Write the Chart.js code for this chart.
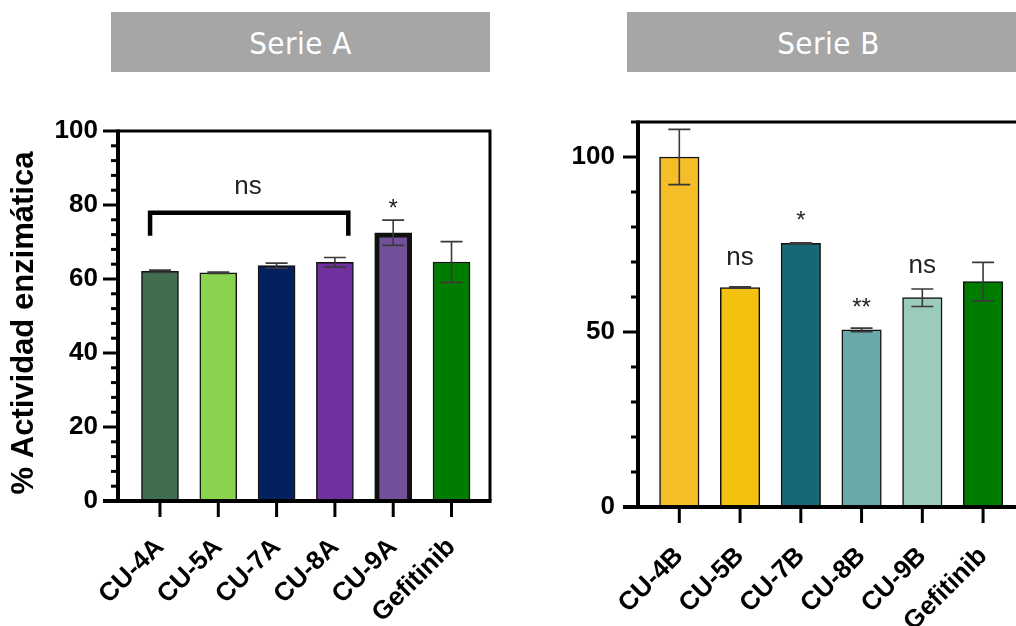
<!DOCTYPE html>
<html><head><meta charset="utf-8">
<script src="https://cdn.jsdelivr.net/npm/chart.js@4.4.0/dist/chart.umd.min.js"></script>
<style>
html,body{margin:0;padding:0;background:#fff;width:1016px;height:626px;overflow:hidden;position:relative;}
.hdr{position:absolute;top:12px;height:60px;background:#a6a6a6;color:#fff;font-family:"Liberation Sans Narrow","DejaVu Sans Condensed",sans-serif;font-size:31px;letter-spacing:0.5px;line-height:62px;text-align:center;}
#ha{left:111px;width:379px;}
#hb{left:627px;width:403px;}
#ca{position:absolute;left:0;top:0;}
#cb{position:absolute;left:530px;top:0;}
</style></head>
<body>
<div class="hdr" id="ha">Serie A</div>
<div class="hdr" id="hb">Serie B</div>
<canvas id="ca" width="510" height="626"></canvas>
<canvas id="cb" width="520" height="626"></canvas>
<script>
// ---- data ----
const categoriesA = ['CU-4A', 'CU-5A', 'CU-7A', 'CU-8A', 'CU-9A', 'Gefitinib'];
const valuesA = [62.1, 61.7, 63.6, 64.5, 72.5, 64.6];
const errorsA = [0.3, 0.2, 0.7, 1.3, 3.4, 5.5];
const colorsA = ['#416e4f', '#8ad34f', '#03215e', '#7130a0', '#72509a', '#007c00'];
const borderWidthsA = [1.5, 1.5, 1.5, 1.5, 5, 1.5];
const yTicksA = [0, 20, 40, 60, 80, 100];
const minorStepA = 4;
const annotationsA = [
  {text: 'ns', x: 1.51, y: 83.1, size: 26},
  {text: '*', x: 4, y: 77.0, size: 24}
];
const bracketA = {from: -0.17, to: 3.23, top: 77.9, bottom: 71.7};
const yTitle = '% Actividad enzimática';

const categoriesB = ['CU-4B', 'CU-5B', 'CU-7B', 'CU-8B', 'CU-9B', 'Gefitinib'];
const valuesB = [100, 62.7, 75.3, 50.6, 59.8, 64.4];
const errorsB = [7.9, 0.2, 0.2, 0.5, 2.5, 5.5];
const colorsB = ['#f5bd27', '#f3c10e', '#176877', '#6aa9a9', '#9bcbb9', '#007c00'];
const borderWidthsB = [1.5, 1.5, 1.5, 1.5, 1.5, 1.5];
const yTicksB = [0, 50, 100];
const minorStepB = 10;
const annotationsB = [
  {text: 'ns', x: 1, y: 69.1, size: 26},
  {text: '*', x: 2, y: 79.6, size: 24},
  {text: '**', x: 3, y: 54.9, size: 24},
  {text: 'ns', x: 4, y: 66.9, size: 26}
];

const FONT = '"Liberation Sans", Arial, sans-serif';

const drawPlugin = {
  id: 'drawExtras',
  afterDatasetsDraw(chart, args, o) {
    const {ctx, chartArea: ca, scales: {x, y}} = chart;
    ctx.save();
    // error bars
    ctx.strokeStyle = '#3a3a3a';
    ctx.lineWidth = 1.6;
    o.values.forEach((v, i) => {
      const px = x.getPixelForValue(i);
      const y1 = y.getPixelForValue(v + o.errors[i]);
      const y2 = y.getPixelForValue(v - o.errors[i]);
      ctx.beginPath();
      ctx.moveTo(px, y1); ctx.lineTo(px, y2);
      ctx.moveTo(px - o.cap, y1); ctx.lineTo(px + o.cap, y1);
      ctx.moveTo(px - o.cap, y2); ctx.lineTo(px + o.cap, y2);
      ctx.stroke();
    });
    ctx.strokeStyle = '#000';
    // frame top/right
    ctx.lineWidth = 3;
    ctx.beginPath();
    ctx.moveTo(ca.left, ca.top); ctx.lineTo(ca.right, ca.top); ctx.lineTo(ca.right, ca.bottom);
    ctx.stroke();
    // y ticks
    ctx.lineWidth = 3;
    for (let v = y.min; v <= y.max + 1e-6; v += o.minorStep) {
      const py = y.getPixelForValue(v);
      const major = o.majors.includes(Math.round(v * 100) / 100);
      ctx.beginPath();
      ctx.moveTo(ca.left - (major ? 15 : 7), py); ctx.lineTo(ca.left, py);
      ctx.stroke();
    }
    // x ticks
    o.values.forEach((v, i) => {
      const px = x.getPixelForValue(i);
      ctx.beginPath();
      ctx.moveTo(px, ca.bottom); ctx.lineTo(px, ca.bottom + 16);
      ctx.stroke();
    });
    // axes
    ctx.lineWidth = 4;
    ctx.beginPath();
    ctx.moveTo(ca.left, ca.top - 1.5); ctx.lineTo(ca.left, ca.bottom);
    ctx.moveTo(ca.left - 15, ca.bottom); ctx.lineTo(ca.right + 1.5, ca.bottom);
    ctx.stroke();
    // bracket
    if (o.bracket) {
      const b = o.bracket;
      ctx.lineWidth = 4.5;
      ctx.lineJoin = 'miter';
      ctx.beginPath();
      ctx.moveTo(x.getPixelForValue(b.from), y.getPixelForValue(b.bottom));
      ctx.lineTo(x.getPixelForValue(b.from), y.getPixelForValue(b.top));
      ctx.lineTo(x.getPixelForValue(b.to), y.getPixelForValue(b.top));
      ctx.lineTo(x.getPixelForValue(b.to), y.getPixelForValue(b.bottom));
      ctx.stroke();
    }
    // annotations
    ctx.fillStyle = '#222';
    ctx.textAlign = 'center';
    ctx.textBaseline = 'alphabetic';
    o.annotations.forEach(a => {
      ctx.font = a.size + 'px ' + FONT;
      ctx.fillText(a.text, x.getPixelForValue(a.x), y.getPixelForValue(a.y));
    });
    // y axis title
    if (o.title) {
      ctx.fillStyle = '#000';
      ctx.font = 'bold 31px ' + FONT;
      ctx.textBaseline = 'middle';
      ctx.translate(ca.left - 94, (ca.top + ca.bottom) / 2 + 7);
      ctx.rotate(-Math.PI / 2);
      ctx.fillText(o.title, 0, 0);
    }
    ctx.restore();
  }
};

function makeChart(id, cats, vals, errs, cols, bws, yMax, yTicks, minorStep, annots, bracket, title, cfg) {
  return new Chart(document.getElementById(id), {
    type: 'bar',
    data: {
      datasets: [{
        data: vals.map((v, i) => ({x: i, y: v})),
        backgroundColor: cols,
        borderColor: '#111',
        borderWidth: bws,
        barThickness: cfg.barThickness
      }]
    },
    options: {
      responsive: false,
      animation: false,
      events: [],
      layout: {padding: {top: cfg.top, right: cfg.right, left: 0, bottom: 0}},
      plugins: {
        legend: {display: false},
        tooltip: {enabled: false},
        drawExtras: {values: vals, errors: errs, cap: 11, minorStep: minorStep, majors: yTicks, annotations: annots, bracket: bracket, title: title}
      },
      scales: {
        x: {
          type: 'linear',
          offset: false,
          min: cfg.xMin, max: cfg.xMax,
          grid: {display: false, drawTicks: false, offset: false},
          border: {display: false},
          afterBuildTicks: s => { s.ticks = cats.map((c, i) => ({value: i})); },
          afterFit: s => { s.height = cfg.xAxisHeight; },
          ticks: {
            autoSkip: false, minRotation: 45, maxRotation: 45, padding: cfg.xPad,
            color: '#000', font: {family: FONT, weight: 'bold', size: 26},
            callback: v => cats[Math.round(v)]
          }
        },
        y: {
          min: 0, max: yMax,
          grid: {display: false, drawTicks: false},
          border: {display: false},
          afterBuildTicks: s => { s.ticks = yTicks.map(v => ({value: v})); },
          afterFit: s => { s.width = cfg.yAxisWidth; },
          ticks: {padding: cfg.yPad, color: '#000', font: {family: FONT, weight: 'bold', size: 26}}
        }
      }
    },
    plugins: [drawPlugin]
  });
}

makeChart('ca', categoriesA, valuesA, errorsA, colorsA, borderWidthsA, 100, yTicksA, minorStepA, annotationsA, bracketA, yTitle,
  {top: 131, right: 20, xAxisHeight: 125, yAxisWidth: 118, xMin: -0.72, xMax: 5.66, barThickness: 37, xPad: 31, yPad: 20});
makeChart('cb', categoriesB, valuesB, errorsB, colorsB, borderWidthsB, 110, yTicksB, minorStepB, annotationsB, null, null,
  {top: 122, right: 25, xAxisHeight: 119, yAxisWidth: 108, xMin: -0.68, xMax: 5.69, barThickness: 39.5, xPad: 34, yPad: 23});
</script>
</body></html>
